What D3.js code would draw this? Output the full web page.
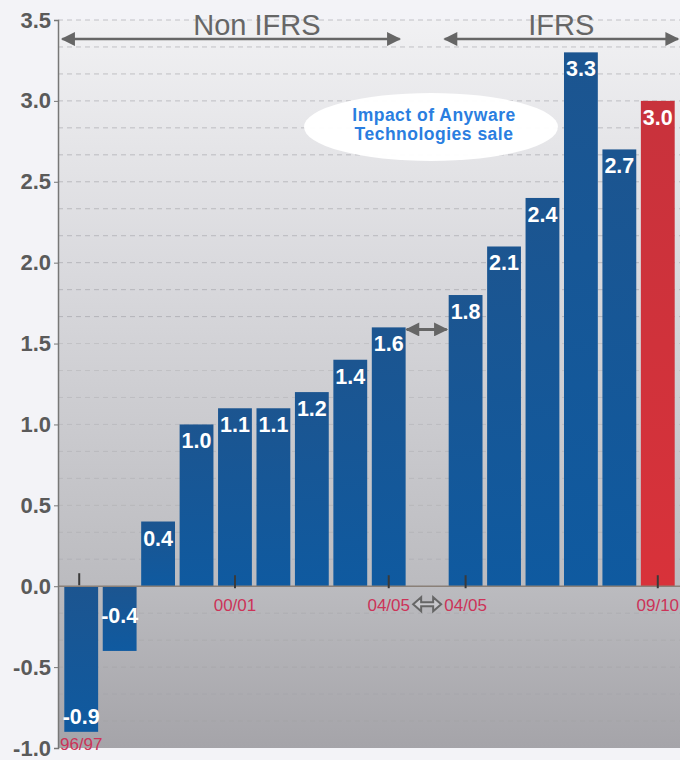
<!DOCTYPE html>
<html><head><meta charset="utf-8">
<script src="https://cdn.jsdelivr.net/npm/d3@7/dist/d3.min.js"></script>
<style>html,body{margin:0;padding:0;background:#f3f3f7;}svg{display:block;font-family:"Liberation Sans",Arial,sans-serif;}</style>
</head><body><svg id="c" width="680" height="760"></svg>
<script>
const categories = ["96/97","97/98","98/99","99/00","00/01","01/02","02/03","03/04","04/05","gap","04/05 IFRS","05/06","06/07","07/08","08/09","09/10"];
const values = [-0.9,-0.4,0.4,1.0,1.1,1.1,1.2,1.4,1.6,null,1.8,2.1,2.4,3.3,2.7,3.0];
const highlight = ["09/10"];
const shownLabels = {"96/97":"96/97","00/01":"00/01","04/05":"04/05","04/05 IFRS":"04/05","09/10":"09/10"};
const yTicks = [3.5,3.0,2.5,2.0,1.5,1.0,0.5,0.0,-0.5,-1.0];
const periods = [{name:"Non IFRS", from:"96/97", to:"04/05"},{name:"IFRS", from:"04/05 IFRS", to:"09/10"}];
const noteLines = ["Impact of Anyware","Technologies sale"];

const fmt = v => d3.format(".1f")(v).replace("\u2212","-");
const svg = d3.select("#c");
const x = d3.scaleBand().domain(categories).range([62,677]).paddingInner(0.12).paddingOuter(0.06);
const y = d3.scaleLinear().domain([-1.0,3.5]).range([748,20]);
const axisX = 58, right = 680;

const defs = svg.append("defs");
const g = defs.append("linearGradient").attr("id","bg").attr("x1",0).attr("y1",0).attr("x2",0).attr("y2",1);
g.append("stop").attr("offset","0%").attr("stop-color","#f1f1f3");
g.append("stop").attr("offset","35%").attr("stop-color","#d9d9dd");
g.append("stop").attr("offset","78%").attr("stop-color","#bbbbbf");
g.append("stop").attr("offset","100%").attr("stop-color","#a5a4a9");
const bb = defs.append("linearGradient").attr("id","bar").attr("x1",0).attr("y1",0).attr("x2",0).attr("y2",1);
bb.append("stop").attr("offset","0%").attr("stop-color","#1c5590");
bb.append("stop").attr("offset","100%").attr("stop-color","#0f5aa0");
const rb = defs.append("linearGradient").attr("id","red").attr("x1",0).attr("y1",0).attr("x2",0).attr("y2",1);
rb.append("stop").attr("offset","0%").attr("stop-color","#c8323c");
rb.append("stop").attr("offset","100%").attr("stop-color","#d8323a");
const ah = defs.append("marker").attr("id","ah").attr("viewBox","0 0 10 10").attr("refX",9).attr("refY",5)
  .attr("markerWidth",18).attr("markerHeight",14).attr("markerUnits","userSpaceOnUse").attr("orient","auto-start-reverse");
ah.append("path").attr("d","M0,0 L10,5 L0,10 Z").attr("fill","#666");

svg.append("rect").attr("x",axisX).attr("y",y(3.5)).attr("width",right-axisX).attr("height",y(-1)-y(3.5)).attr("fill","url(#bg)");

// grid lines every 1/6 unit
const grid = d3.range(0,28).map(i => 3.5 - i/6).filter(v => v > -1.0 && v <= 3.5);
svg.append("g").selectAll("line").data(grid).join("line")
  .attr("x1",axisX).attr("x2",right).attr("y1",d=>y(d)).attr("y2",d=>y(d))
  .attr("stroke","#9a9aa0").attr("stroke-opacity",d=> d>1.5?0.55:0.3).attr("stroke-dasharray","5,4");

// bars
const data = categories.map((c,i)=>({c, v: values[i]})).filter(d=>d.v!==null);
svg.append("g").selectAll("rect").data(data).join("rect")
  .attr("x",d=>x(d.c)).attr("width",x.bandwidth())
  .attr("y",d=>y(Math.max(0,d.v))).attr("height",d=>Math.abs(y(d.v)-y(0)))
  .attr("fill",d=>highlight.includes(d.c)?"url(#red)":"url(#bar)");

// zero line
svg.append("line").attr("x1",axisX).attr("x2",right).attr("y1",y(0)).attr("y2",y(0)).attr("stroke","#8a8078").attr("stroke-width",1.5);

// y axis
const yAxis = d3.axisLeft(y).tickValues(yTicks).tickFormat(fmt).tickSize(4).tickPadding(3);
const ya = svg.append("g").attr("transform",`translate(${axisX},0)`).call(yAxis);
ya.select(".domain").attr("stroke","#777").attr("stroke-width",1.5);
ya.selectAll(".tick line").attr("stroke","#777");
ya.selectAll(".tick text").attr("fill","#5a5a5a").attr("font-size",22).attr("font-weight","bold")
  .attr("font-family","'Liberation Sans',Arial,sans-serif");

// value labels
svg.append("g").selectAll("text").data(data).join("text")
  .attr("x",d=>x(d.c)+x.bandwidth()/2)
  .attr("y",d=> d.v>=0 ? y(d.v)+24 : (d.v < -0.5 ? y(d.v)-8 : y(0)+37))
  .attr("text-anchor","middle").attr("fill","#fff").attr("font-size",21.5).attr("font-weight","bold")
  .text(d=>fmt(d.v));

// category ticks and labels
const shown = Object.keys(shownLabels);
svg.append("g").selectAll("line").data(shown).join("line")
  .attr("x1",d=>x(d)+x.bandwidth()/2-(d==="96/97"?2:0)).attr("x2",d=>x(d)+x.bandwidth()/2-(d==="96/97"?2:0))
  .attr("y1",d=>d==="96/97"?y(0)-13:y(0)-11).attr("y2",d=>d==="96/97"?y(0)-1:y(0)+2)
  .attr("stroke","#3a3a3a").attr("stroke-width",2);
svg.append("g").selectAll("text").data(shown).join("text")
  .attr("x",d=>x(d)+x.bandwidth()/2)
  .attr("y",d=>d==="96/97"?y(-1)+2:y(0)+25)
  .attr("text-anchor","middle").attr("fill","#cc3358").attr("font-size",17)
  .text(d=>shownLabels[d]);

// small arrow between 04/05 labels
const mid = (x("04/05")+x.bandwidth()+x("04/05 IFRS"))/2;
const cy = y(0)+18;
svg.append("path").attr("d",`M${mid-14},${cy} L${mid-6},${cy-7} L${mid-6},${cy-2} L${mid+6},${cy-2} L${mid+6},${cy-7} L${mid+14},${cy} L${mid+6},${cy+7} L${mid+6},${cy+2} L${mid-6},${cy+2} L${mid-6},${cy+7} Z`)
  .attr("fill","#c8c8cc").attr("stroke","#666").attr("stroke-width",2);

// mid double arrow between 1.6 and 1.8
svg.append("line").attr("x1",x("04/05")+x.bandwidth()+1).attr("x2",x("04/05 IFRS")-2)
  .attr("y1",y(1.6)+2).attr("y2",y(1.6)+2).attr("stroke","#666").attr("stroke-width",3)
  .attr("marker-start","url(#ah)").attr("marker-end","url(#ah)");

// period arrows
const pg = svg.append("g");
periods.forEach((p,i)=>{
  const x1 = i===0 ? x(p.from)-2 : x(p.from)-4;
  const x2 = i===0 ? x(p.to)+x.bandwidth()-6 : right-2;
  pg.append("line").attr("x1",x1).attr("x2",x2).attr("y1",39).attr("y2",39)
    .attr("stroke","#666").attr("stroke-width",2.5)
    .attr("marker-start","url(#ah)").attr("marker-end","url(#ah)");
  pg.append("text").attr("x",(x1+x2)/2+(i===0?26:0)).attr("y",35).attr("text-anchor","middle")
    .attr("fill","#666").attr("font-size",29).text(p.name);
});

// note ellipse
const nx = 431, ny = 127;
svg.append("ellipse").attr("cx",nx).attr("cy",ny).attr("rx",127).attr("ry",34).attr("fill","#fff").attr("fill-opacity",0.97);
svg.append("g").selectAll("text").data(noteLines).join("text")
  .attr("x",nx+3).attr("y",(d,i)=>ny-6+i*18.5).attr("text-anchor","middle")
  .attr("fill","#2a7ee0").attr("font-size",17.5).attr("letter-spacing",0.5).attr("font-weight","bold").text(d=>d);
</script></body></html>
